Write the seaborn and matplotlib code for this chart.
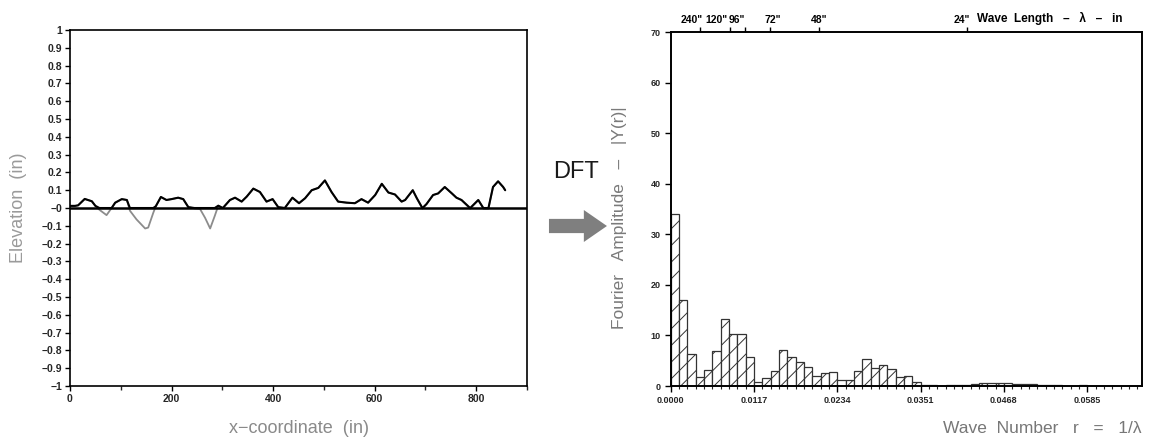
import numpy as np
import pandas as pd
import matplotlib
matplotlib.use("Agg")
import matplotlib.pyplot as plt
import seaborn as sns
from matplotlib.patches import FancyArrow
from matplotlib.ticker import MultipleLocator, FixedLocator

sns.set_theme(style="ticks")
plt.rcParams["font.family"] = ["Liberation Sans", "DejaVu Sans"]
plt.rcParams["hatch.linewidth"] = 0.7
plt.rcParams["hatch.color"] = "#555555"

# ---------------- data: road profile ----------------
profile_x = [0, 10, 16, 29, 43, 50, 58, 72, 82, 89, 102, 112, 118, 131, 148, 154,
             164, 169, 179, 190, 200, 213, 223, 233, 245, 256, 266, 276, 285, 292,
             301, 315, 325, 338, 348, 361, 374, 387, 399, 410, 423, 438, 451, 463,
             476, 489, 502, 515, 528, 545, 561, 574, 587, 601, 614, 627, 640, 653,
             660, 675, 683, 694, 702, 715, 725, 738, 752, 761, 771, 788, 804, 814,
             824, 833, 843, 853, 857]
profile_y = [0.012, 0.012, 0.015, 0.051, 0.038, 0.012, -0.01, -0.04, 0.0, 0.03,
             0.05, 0.045, -0.015, -0.064, -0.115, -0.11, -0.027, 0.01, 0.062, 0.045,
             0.05, 0.058, 0.05, 0.005, -0.002, -0.005, -0.055, -0.115, -0.045, 0.013,
             0.0, 0.045, 0.058, 0.036, 0.064, 0.109, 0.09, 0.036, 0.05, 0.005,
             0.0, 0.058, 0.027, 0.055, 0.1, 0.113, 0.155, 0.09, 0.036, 0.03,
             0.027, 0.05, 0.03, 0.073, 0.136, 0.087, 0.076, 0.036, 0.045, 0.1,
             0.055, -0.004, 0.022, 0.073, 0.082, 0.118, 0.082, 0.058, 0.045, -0.004,
             0.045, -0.004, -0.004, 0.118, 0.15, 0.118, 0.10]

# ---------------- data: DFT amplitude spectrum ----------------
bin_width = 0.00117
amplitude = [34, 17, 6.3, 1.8, 3.1, 7.0, 13.3, 10.2, 10.2, 5.8,
             0.8, 1.5, 2.9, 7.1, 5.8, 4.8, 3.7, 1.9, 2.5, 2.7,
             1.2, 1.2, 2.9, 5.3, 3.6, 4.1, 3.4, 1.7, 2.0, 0.8,
             0.2, 0.15, 0.1, 0.15, 0.2, 0.25, 0.35, 0.5, 0.6, 0.55,
             0.5, 0.45, 0.4, 0.3, 0.2, 0.15, 0.15, 0.1, 0.1, 0.15,
             0.1, 0.1, 0.1, 0.1, 0.1, 0.1]
wave_ticks = [0.0, 0.0117, 0.0234, 0.0351, 0.0468, 0.0585]
wave_tick_labels = ["0.0000", "0.0117", "0.0234", "0.0351", "0.0468", "0.0585"]
wavelengths = [240, 120, 96, 72, 48, 24]
wavelength_labels = ['240"', '120"', '96"', '72"', '48"', '24"']
wavelength_label_shift = [-6, -10, -6, 2, 0, -4]   # points, label nudges

elev_ticks = np.round(np.arange(-1.0, 1.0001, 0.1), 1)

# ---------------- figure ----------------
fig = plt.figure(figsize=(11.55, 4.44), dpi=100)
ax1 = fig.add_axes([0.0606, 0.1306, 0.3957, 0.8018])
ax2 = fig.add_axes([0.5807, 0.1306, 0.4081, 0.7973])

# ---- left panel ----
py = np.array(profile_y)
sns.lineplot(x=profile_x, y=py, ax=ax1, color="#8c8c8c", lw=1.3,
             sort=False, estimator=None)
sns.lineplot(x=profile_x, y=np.clip(py, 0, None), ax=ax1, color="black", lw=1.5,
             sort=False, estimator=None)
ax1.axhline(0, color="black", lw=1.8, zorder=3)
ax1.set_xlim(0, 900)
ax1.set_ylim(-1, 1)
ax1.xaxis.set_major_locator(MultipleLocator(200))
ax1.xaxis.set_minor_locator(MultipleLocator(100))
ax1.yaxis.set_major_locator(FixedLocator(elev_ticks))
ax1.set_yticklabels([f"{v:g}".replace("-", "\u2212") for v in elev_ticks])
ax1.tick_params(axis="both", which="major", direction="out", length=3.5, width=1,
                color="black", labelsize=7.5, pad=2)
ax1.tick_params(axis="x", which="minor", direction="out", length=3, width=1,
                bottom=True)
for lab in ax1.get_xticklabels() + ax1.get_yticklabels():
    lab.set_fontweight("bold")
ax1.set_xlabel("x\u2212coordinate  (in)", fontsize=13, color="#8a8a8a")
ax1.set_ylabel("Elevation  (in)", fontsize=13, color="#9a9a9a")
ax1.xaxis.set_label_coords(0.5, -0.095)
ax1.yaxis.set_label_coords(-0.095, 0.5)

# ---- right panel ----
n_bins = len(amplitude)
spectrum = pd.DataFrame({
    "r": (np.arange(n_bins) + 0.5) * bin_width,
    "amp": amplitude,
})
sns.histplot(data=spectrum, x="r", weights="amp", binwidth=bin_width,
             binrange=(0, n_bins * bin_width), ax=ax2, color="white",
             edgecolor="#333333", linewidth=0.9, hatch="//", alpha=1, fill=True)
ax2.set_xlim(0, 0.0662)
ax2.set_ylim(0, 70)
ax2.xaxis.set_major_locator(FixedLocator(wave_ticks))
ax2.set_xticklabels(wave_tick_labels)
ax2.xaxis.set_minor_locator(MultipleLocator(bin_width))
ax2.yaxis.set_major_locator(MultipleLocator(10))
ax2.tick_params(axis="both", which="major", direction="out", length=4, width=1,
                color="black", labelsize=6.5, pad=3)
ax2.tick_params(axis="x", which="minor", direction="out", length=2.5, width=0.8,
                bottom=True)
for lab in ax2.get_xticklabels() + ax2.get_yticklabels():
    lab.set_fontweight("bold")
ax2.set_xlabel("Wave  Number   r   =   1/\u03bb", fontsize=12.5, color="#777777",
               ha="right")
ax2.xaxis.set_label_coords(1.0, -0.1)
ax2.set_ylabel("Fourier   Amplitude   \u2013   |Y(r)|", fontsize=12.5,
               color="#7a7a7a")
ax2.yaxis.set_label_coords(-0.093, 0.475)

# top wavelength axis
ax_top = ax2.twiny()
ax_top.set_xlim(ax2.get_xlim())
top_pos = [1.0 / w for w in wavelengths]
ax_top.xaxis.set_major_locator(FixedLocator(top_pos))
ax_top.set_xticklabels([])
ax_top.tick_params(axis="x", which="major", direction="out", length=3.5, width=1,
                   color="black", top=True)
for pos, lab, dx in zip(top_pos, wavelength_labels, wavelength_label_shift):
    ax_top.annotate(lab, xy=(pos, 1), xycoords=("data", "axes fraction"),
                    xytext=(dx, 5), textcoords="offset points", ha="center",
                    va="bottom", fontsize=7.5, fontweight="bold", color="black")
ax_top.annotate("Wave  Length   \u2013   \u03bb   \u2013   in", xy=(top_pos[-1], 1),
                xycoords=("data", "axes fraction"), xytext=(7, 5),
                textcoords="offset points", ha="left", va="bottom", fontsize=8.5,
                fontweight="bold", color="black", annotation_clip=False)

for ax in (ax1, ax2, ax_top):
    for sp in ax.spines.values():
        sp.set_color("black")
        sp.set_linewidth(1.2)

# ---- DFT arrow ----
fig.text(0.4987, 0.612, "DFT", fontsize=17, ha="center", va="center",
         color="#1a1a1a")
fig.add_artist(FancyArrow(0.4753, 0.491, 0.0502, 0.0, width=0.032,
                          head_width=0.072, head_length=0.02,
                          length_includes_head=True, transform=fig.transFigure,
                          color="#7f7f7f", lw=0))

fig.savefig("out.png", dpi=100)
